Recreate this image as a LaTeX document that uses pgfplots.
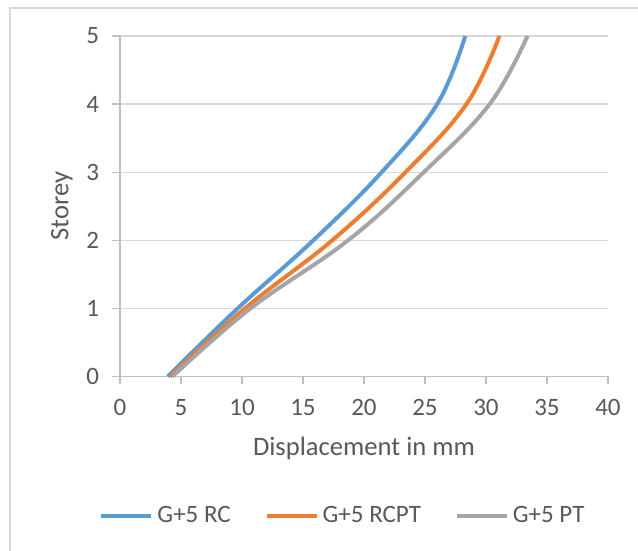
\documentclass[border=0pt]{standalone}
\usepackage{fontspec}
\setmainfont{Carlito}
\usepackage{pgfplots}
\pgfplotsset{compat=1.18}
\definecolor{cblue}{HTML}{5B9BD5}
\definecolor{corange}{HTML}{ED7D31}
\definecolor{cgray}{HTML}{A5A5A5}
\definecolor{gridgray}{HTML}{D9D9D9}
\definecolor{axisgray}{HTML}{BFBFBF}
\definecolor{txtgray}{HTML}{595959}
\begin{document}
\begin{tikzpicture}
\useasboundingbox (0,0) rectangle (319pt,275.5pt);
\draw[color=gridgray, line width=0.9pt] (5pt,0) -- (5pt,271.5pt) -- (319pt,271.5pt);
\begin{axis}[
  at={(60pt,87.25pt)}, anchor=south west,
  scale only axis, width=244pt, height=170.25pt,
  xmin=0, xmax=40, ymin=0, ymax=5,
  xtick={0,5,...,40}, ytick={0,1,2,3,4,5},
  axis x line=bottom, axis y line=left,
  axis line style={-, color=axisgray, line width=0.6pt},
  tick style={color=axisgray, line width=0.6pt},
  tick align=outside, major tick length=4pt,
  ymajorgrids, grid style={color=gridgray, line width=0.6pt},
  /pgf/number format/assume math mode=true,
  ticklabel style={font=\fontsize{12.5}{14}\selectfont, text=txtgray},
  yticklabel style={xshift=-3pt},
  xticklabel style={yshift=-4pt},
  xlabel={Displacement in mm}, ylabel={Storey},
  label style={font=\fontsize{13.3}{15}\selectfont, text=txtgray},
  xlabel style={at={([yshift=-36pt]axis description cs:0.5,0)}, anchor=center},
  ylabel style={at={([xshift=-29pt]axis description cs:0,0.5)}, anchor=center},
  legend style={at={(axis description cs:0.4590,-0.41)}, anchor=center, draw=none,
    font=\fontsize{12.5}{14}\selectfont, text=txtgray,
    /tikz/every even column/.append style={column sep=15pt}},
  legend columns=3,
  legend image code/.code={\draw[#1] (0pt,0pt) -- (25pt,0pt);},
  every axis plot/.append style={line width=2pt, smooth, tension=0.65},
  clip=false,
]
\addplot[cblue] coordinates {(3.92,0) (9.65,1) (15.85,2) (21.45,3) (26.0,4) (28.3,5)};
\addlegendentry{G+5 RC}
\addplot[corange] coordinates {(4.12,0) (10.25,1) (17.4,2) (23.4,3) (28.4,4) (31.1,5)};
\addlegendentry{G+5 RCPT}
\addplot[cgray] coordinates {(4.3,0) (10.7,1) (18.7,2) (24.9,3) (30.3,4) (33.4,5)};
\addlegendentry{G+5 PT}
\end{axis}
\end{tikzpicture}
\end{document}
